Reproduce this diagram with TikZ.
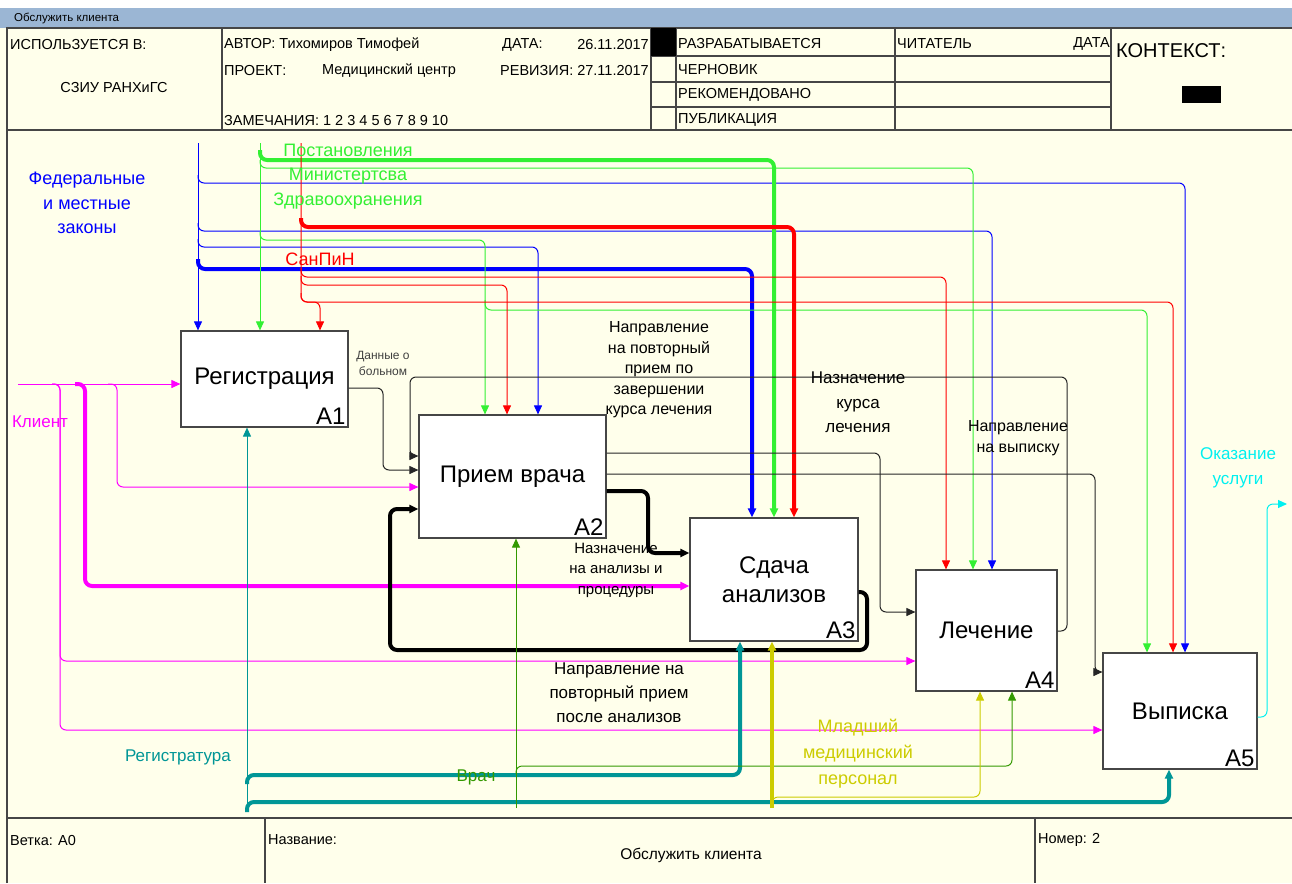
\documentclass[tikz,border=0pt]{standalone}
\usepackage{fontspec}
\setmainfont{Liberation Sans}
\usetikzlibrary{arrows.meta}
\definecolor{cream}{RGB}{255,255,235}
\definecolor{bar}{RGB}{155,182,212}
\definecolor{frame}{RGB}{70,70,70}
\definecolor{fedblue}{RGB}{0,0,255}
\definecolor{minzdrav}{RGB}{51,240,51}
\definecolor{sanred}{RGB}{255,0,0}
\definecolor{clientpink}{RGB}{255,0,255}
\definecolor{regteal}{RGB}{0,150,150}
\definecolor{vrachgreen}{RGB}{51,153,0}
\definecolor{personal}{RGB}{204,204,0}
\definecolor{uslcyan}{RGB}{0,240,240}
\tikzset{>={Triangle[length=9pt,width=8pt]}}
\tikzset{
  box/.style={draw=frame,line width=1.2pt,fill=white,inner sep=0pt,align=center,
    font=\fontsize{24}{29}\selectfont},
  num/.style={anchor=south east,inner sep=3pt,font=\fontsize{24}{29}\selectfont},
  hdr/.style={inner sep=0pt,font=\fontsize{14.5}{16}\selectfont},
  colt/.style={inner sep=0pt,align=center,font=\fontsize{18}{24.5}\selectfont},
  note/.style={inner sep=0pt,align=center,font=\fontsize{16}{20.5}\selectfont},
  fine/.style={line width=1pt,rounded corners=6pt},
  heavy/.style={line width=4pt,rounded corners=7pt},
  rule/.style={draw=frame,line width=1.2pt}
}

\begin{document}
\begin{tikzpicture}[x=1pt,y=-1pt]
\useasboundingbox (0,0) rectangle (1292,883);
\fill[cream] (0,28) rectangle (1292,883);
\fill[bar] (0,8) rectangle (1292,28);
\draw[rule] (7,883) -- (7,28) -- (1292,28);
\draw[rule] (7,130) -- (1292,130);
\draw[rule] (7,818) -- (1292,818);
\foreach \x in {222,651,676,895,1111}
  \draw[rule] (\x,28) -- (\x,130);
\foreach \y in {56,82,107}
  \draw[rule] (651,\y) -- (1111,\y);
\foreach \x in {265,1035}
  \draw[rule] (\x,818) -- (\x,883);
\fill (651,28) rectangle (676,56);
\fill (1182,86) rectangle (1221,103);

% шапка
\node[hdr,anchor=west,font=\fontsize{11.5}{13}\selectfont] (titel) at (14,18) {Обслужить клиента};
\node[hdr,anchor=west] (used) at (10,45) {ИСПОЛЬЗУЕТСЯ В:};
\node[hdr] (org) at (114,88) {СЗИУ РАНХиГС};
\node[hdr,anchor=west] (author) at (224,45) {АВТОР: Тихомиров Тимофей};
\node[hdr,anchor=west] (datum) at (502,45) {ДАТА:};
\node[hdr,anchor=east] (datumval) at (649,45) {26.11.2017};
\node[hdr,anchor=west] (proj) at (224,71) {ПРОЕКТ:};
\node[hdr,anchor=west] (projval) at (322,71) {Медицинский центр};
\node[hdr,anchor=east] (rev) at (649,71) {РЕВИЗИЯ: 27.11.2017};
\node[hdr,anchor=west] (notes) at (224,121) {ЗАМЕЧАНИЯ: 1 2 3 4 5 6 7 8 9 10};
\node[hdr,anchor=west] (st1) at (678,44) {РАЗРАБАТЫВАЕТСЯ};
\node[hdr,anchor=west] (st2) at (678,70) {ЧЕРНОВИК};
\node[hdr,anchor=west] (st3) at (678,95) {РЕКОМЕНДОВАНО};
\node[hdr,anchor=west] (st4) at (678,120) {ПУБЛИКАЦИЯ};
\node[hdr,anchor=west] (reader) at (897,44) {ЧИТАТЕЛЬ};
\node[hdr,anchor=east] (rdate) at (1110,44) {ДАТА};
\node[hdr,anchor=west,font=\fontsize{20}{22}\selectfont] (ctx) at (1116,51) {КОНТЕКСТ:};
\node[hdr,anchor=west] (branch) at (10,840) {Ветка: А0};
\node[hdr,anchor=west] (title) at (268,840) {Название:};
\node[hdr,font=\fontsize{15.5}{17}\selectfont] (titleval) at (691,855) {Обслужить клиента};
\node[hdr,anchor=west] (nr) at (1038,840) {Номер: 2};

% блоки
\node[box,minimum width=167pt,minimum height=96pt,label={[num]south east:A1}] (a1) at (264.5,379) {Регистрация};
\node[box,minimum width=187pt,minimum height=123pt,label={[num]south east:A2}] (a2) at (512.5,476.5) {Прием врача};
\node[box,minimum width=168pt,minimum height=123pt,label={[num]south east:A3}] (a3) at (774,579.5) {Сдача\\анализов};
\node[box,minimum width=141pt,minimum height=121pt,label={[num]south east:A4}] (a4) at (986.5,630.5) {Лечение};
\node[box,minimum width=154pt,minimum height=116pt,label={[num]south east:A5}] (a5) at (1180,711) {Выписка};

\coordinate (fed) at (198,143);
\coordinate (post) at (260,143);
\coordinate (sanpin) at (301,143);
\coordinate (client) at (18,384);
\coordinate (reg) at (247,808);
\coordinate (vrach) at (516,808);
\coordinate (mlad) at (772,808);
\coordinate (usl) at (1287,504);

% управление
\draw[fine,fedblue,->] (fed) -- (fed |- a1.north);
\draw[fine,fedblue,->] (198,175) -- (198,183) -- (1185,183) -- (1185,0 |- a5.north);
\draw[fine,fedblue,->] (198,223) -- (198,231) -- (992,231) -- (992,0 |- a4.north);
\draw[fine,fedblue,->] (198,239) -- (198,247) -- (538,247) -- (538,0 |- a2.north);
\draw[heavy,fedblue,->] (198,259) -- (198,269) -- (752,269) -- (752,0 |- a3.north);
\draw[fine,minzdrav,->] (post) -- (post |- a1.north);
\draw[heavy,minzdrav,->] (260,150) -- (260,160) -- (774,160) -- (774,0 |- a3.north);
\draw[fine,minzdrav,->] (260,160) -- (260,168) -- (973,168) -- (973,0 |- a4.north);
\draw[fine,minzdrav,->] (260,232) -- (260,240) -- (485,240) -- (485,0 |- a2.north);
\draw[fine,minzdrav,->] (485,300) -- (485,310) -- (1147,310) -- (1147,0 |- a5.north);
\draw[fine,sanred,->] (sanpin) -- (301,302) -- (320,302) -- (320,0 |- a1.north);
\draw[heavy,sanred,->] (301,218) -- (301,227) -- (794,227) -- (794,0 |- a3.north);
\draw[fine,sanred,->] (301,268) -- (301,277) -- (946,277) -- (946,0 |- a4.north);
\draw[fine,sanred,->] (301,276) -- (301,285) -- (507,285) -- (507,0 |- a2.north);
\draw[fine,sanred,->] (301,293) -- (301,302) -- (1173,302) -- (1173,0 |- a5.north);

% вход
\draw[fine,clientpink,->] (client) -- (client -| a1.west);
\draw[heavy,clientpink,->] (75,384) -- (85,384) -- (85,586) -- (a3.west |- 0,586);
\draw[fine,clientpink,->] (108,384) -- (117,384) -- (117,487) -- (a2.west |- 0,487);
\draw[fine,clientpink,->] (52,384) -- (60,384) -- (60,661) -- (a4.west |- 0,661);
\draw[fine,clientpink,->] (52,384) -- (60,384) -- (60,730) -- (a5.west |- 0,730);

% связи
\draw[fine,black!85,->] (a1.east |- 0,388) -- (383,388) -- (383,470) -- (a2.west |- 0,470);
\draw[fine,black!85,->] (a4.east |- 0,631) -- (1067,631) -- (1067,377) -- (410,377) -- (410,456) -- (a2.west |- 0,456);
\draw[fine,black!85,->] (a2.east |- 0,453) -- (880,453) -- (880,612) -- (a4.west |- 0,612);
\draw[fine,black!85,->] (a2.east |- 0,474) -- (1095,474) -- (1095,672) -- (a5.west |- 0,672);
\draw[heavy,->] (a2.east |- 0,491) -- (648,491) -- (648,553) -- (a3.west |- 0,553);
\draw[heavy,->] (a3.east |- 0,592) -- (867,592) -- (867,650) -- (390,650) -- (390,509) -- (a2.west |- 0,509);
\draw[fine,uslcyan,->] (a5.east |- 0,717) -- (1267,717) -- (1267,504) -- (usl);

% механизмы
\draw[fine,regteal,->] (reg) -- (reg |- a1.south);
\draw[heavy,regteal,->] (247,784) -- (247,775) -- (740,775) -- (740,0 |- a3.south);
\draw[heavy,regteal,->] (247,812) -- (247,802) -- (1169,802) -- (1169,0 |- a5.south);
\draw[fine,vrachgreen,->] (vrach) -- (vrach |- a2.south);
\draw[fine,vrachgreen,->] (516,774) -- (516,766) -- (1012,766) -- (1012,0 |- a4.south);
\draw[heavy,personal,->] (mlad) -- (mlad |- a3.south);
\draw[fine,personal,->] (772,805) -- (772,797) -- (980,797) -- (980,0 |- a4.south);

% подписи
\node[colt,fedblue] (fedtxt) at (87,203) {Федеральные\\и местные\\законы};
\node[colt,minzdrav] (posttxt) at (348,176.5) {Постановления\\Министертсва\\Здравоохранения};
\node[colt,sanred] (santxt) at (320,259) {СанПиН};
\node[colt,clientpink,font=\fontsize{17}{20}\selectfont] (clienttxt) at (40,422) {Клиент};
\node[colt,regteal,font=\fontsize{17}{20}\selectfont] (regtxt) at (178,757) {Регистратура};
\node[colt,vrachgreen,font=\fontsize{17}{20}\selectfont] (vrachtxt) at (476,777) {Врач};
\node[colt,personal,font=\fontsize{18}{26}\selectfont] (mladtxt) at (858,754) {Младший\\медицинский\\персонал};
\node[colt,uslcyan,font=\fontsize{17}{25}\selectfont] (usltxt) at (1238,467.5) {Оказание\\услуги};
\node[note,black!75,font=\fontsize{12}{16}\selectfont] (datatxt) at (383,363) {Данные о\\больном};
\node[note] (povt1) at (659,370) {Направление\\на повторный\\прием по\\завершении\\курса лечения};
\node[note,font=\fontsize{17}{24.5}\selectfont] (kurs) at (858,402.5) {Назначение\\курса\\лечения};
\node[note] (vyp) at (1018,438) {Направление\\на выписку};
\node[note,font=\fontsize{15}{20.5}\selectfont] (anal) at (616,570) {Назначение\\на анализы и\\процедуры};
\node[note,font=\fontsize{17}{24}\selectfont] (povt2) at (619,693) {Направление на\\повторный прием\\после анализов};
\end{tikzpicture}
\end{document}
